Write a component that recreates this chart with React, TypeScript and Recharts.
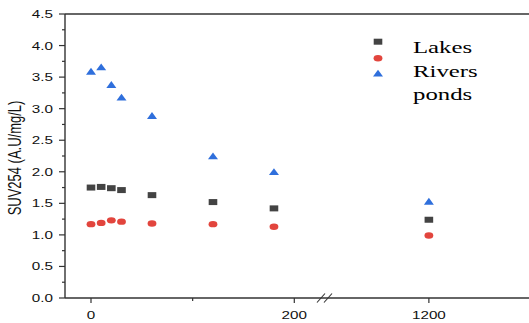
import React from "react";
import {
  ScatterChart,
  Scatter,
  XAxis,
  YAxis,
  ReferenceLine,
  Legend,
} from "recharts";

// sampling times (min); 1200 sits past the axis break
const times = [0, 10, 20, 30, 60, 120, 180, 1200];
const lakes = [1.75, 1.76, 1.74, 1.71, 1.63, 1.52, 1.42, 1.24];
const rivers = [1.17, 1.19, 1.23, 1.21, 1.18, 1.17, 1.13, 0.99];
const ponds = [3.59, 3.66, 3.38, 3.18, 2.89, 2.25, 2.0, 1.53];

const xTickValues = [0, 100, 200, 1200];
const xTickLabels = ["0", "", "200", "1200"];
const yTicks = [
  0, 0.25, 0.5, 0.75, 1, 1.25, 1.5, 1.75, 2, 2.25, 2.5, 2.75, 3, 3.25, 3.5,
  3.75, 4, 4.25, 4.5,
];

// broken axis: 0-200 linear, then jump so 1200 lands right of the break
const POS_1200 = 332.4;
const brokenX = (t: number) => (t <= 200 ? t : POS_1200 + (t - 1200) * 0.1);

const AXIS = "#333";
const SQUARE = "#434343";
const CIRCLE = "#e2453d";
const TRIANGLE = "#2f6fdc";

const toPoints = (vals: number[]) =>
  vals.map((v, i) => ({ x: brokenX(times[i]), y: v }));

const Square = ({ cx, cy }: any) => (
  <rect x={cx - 4.3} y={cy - 3} width={8.6} height={6} fill={SQUARE} />
);
const Dot = ({ cx, cy }: any) => (
  <ellipse cx={cx} cy={cy} rx={4.4} ry={3.2} fill={CIRCLE} />
);
const Tri = ({ cx, cy }: any) => (
  <path
    d={`M${cx - 5},${cy + 3.3} L${cx + 5},${cy + 3.3} L${cx},${cy - 3.6} Z`}
    fill={TRIANGLE}
  />
);

const XTick = ({ x, y, payload }: any) => {
  const i = xTickValues.findIndex((t) => brokenX(t) === payload.value);
  const label = i >= 0 ? xTickLabels[i] : "";
  const minor = label === "";
  return (
    <g>
      <line x1={x} x2={x} y1={y} y2={y + (minor ? 3 : 5)} stroke={AXIS} strokeWidth={1.2} />
      {label && (
        <text
          transform={`translate(${x},${y + 20.5}) scale(1.45,1)`}
          textAnchor="middle"
          fontFamily="Liberation Sans, Arial, sans-serif"
          fontSize={10.5}
          fill="#111"
        >
          {label}
        </text>
      )}
    </g>
  );
};

const YTick = ({ x, y, payload }: any) => {
  const v = payload.value as number;
  const major = Math.abs(v * 2 - Math.round(v * 2)) < 1e-6;
  return (
    <g>
      <line x1={x - (major ? 6 : 3)} x2={x} y1={y} y2={y} stroke={AXIS} strokeWidth={1.2} />
      {major && (
        <text
          transform={`translate(${x - 12},${y + 4}) scale(1.45,1)`}
          textAnchor="end"
          fontFamily="Liberation Sans, Arial, sans-serif"
          fontSize={10.5}
          fill="#111"
        >
          {v.toFixed(1)}
        </text>
      )}
    </g>
  );
};

const YLabel = ({ viewBox }: any) => {
  const cy = viewBox.y + viewBox.height / 2 + 2;
  return (
    <text
      transform={`translate(21,${cy}) scale(1.4,1) rotate(-90)`}
      textAnchor="middle"
      fontFamily="Liberation Sans, Arial, sans-serif"
      fontSize={13}
      fill="#111"
    >
      SUV254 (A.U/mg/L)
    </text>
  );
};

const legendItems = [
  { name: "Lakes", marker: <Square cx={378} cy={41.7} /> },
  { name: "Rivers", marker: <Dot cx={378} cy={58.3} /> },
  { name: "ponds", marker: <Tri cx={378} cy={73.3} /> },
];

const LegendBox = () => (
  <svg
    width={529}
    height={120}
    style={{ position: "absolute", left: 0, top: 0, overflow: "visible" }}
  >
    {legendItems.map((it, i) => (
      <g key={it.name}>
        {it.marker}
        <text
          transform={`translate(413,${53 + i * 23.5}) scale(1.4,1)`}
          fontFamily="Liberation Serif, Times New Roman, serif"
          fontSize={17.7}
          fill="#000"
        >
          {it.name}
        </text>
      </g>
    ))}
  </svg>
);

// pixel -> data helpers for the little "//" break marks
const pxX = (px: number) => (px - 91) / 1.0165;
const pxY = (py: number) => ((298 - py) * 4.5) / 284;

export default function App() {
  return (
    <div style={{ position: "absolute", left: 0, top: 0 }}>
      <ScatterChart
        width={529}
        height={323}
        margin={{ top: 14, right: 0, bottom: 0, left: 0 }}
      >
        <XAxis
          type="number"
          dataKey="x"
          domain={[-25.58, 430.9]}
          allowDataOverflow
          ticks={xTickValues.map(brokenX)}
          interval={0}
          tickSize={0}
          tickMargin={0}
          height={25}
          tick={<XTick />}
          axisLine={{ stroke: AXIS, strokeWidth: 1.4 }}
          tickLine={false}
        />
        <YAxis
          type="number"
          dataKey="y"
          domain={[0, 4.5]}
          ticks={yTicks}
          interval={0}
          width={65}
          tickSize={0}
          tickMargin={0}
          tick={<YTick />}
          axisLine={{ stroke: AXIS, strokeWidth: 1.4 }}
          tickLine={false}
          label={<YLabel />}
        />
        <ReferenceLine y={4.5} stroke={AXIS} strokeWidth={1.4} />
        <ReferenceLine
          segment={[
            { x: pxX(317), y: pxY(302.5) },
            { x: pxX(325), y: pxY(293.5) },
          ]}
          stroke={AXIS}
          strokeWidth={1.1}
          ifOverflow="visible"
        />
        <ReferenceLine
          segment={[
            { x: pxX(324), y: pxY(302.5) },
            { x: pxX(332), y: pxY(293.5) },
          ]}
          stroke={AXIS}
          strokeWidth={1.1}
          ifOverflow="visible"
        />
        <Legend
          content={<LegendBox />}
          wrapperStyle={{ position: "absolute", left: 0, top: 0, width: 0, height: 0, overflow: "visible" }}
        />
        <Scatter name="Lakes" data={toPoints(lakes)} shape={<Square />} isAnimationActive={false} />
        <Scatter name="Rivers" data={toPoints(rivers)} shape={<Dot />} isAnimationActive={false} />
        <Scatter name="ponds" data={toPoints(ponds)} shape={<Tri />} isAnimationActive={false} />
      </ScatterChart>
    </div>
  );
}
